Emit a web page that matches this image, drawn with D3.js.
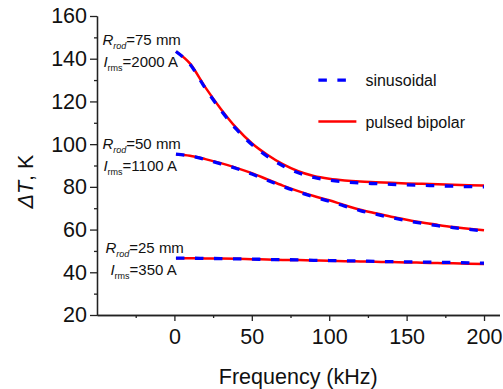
<!DOCTYPE html>
<html>
<head>
<meta charset="utf-8">
<script src="https://cdn.jsdelivr.net/npm/d3@7"></script>
<style>
  body { margin: 0; background: #fff; }
  svg { display: block; font-family: "Liberation Sans", Arial, sans-serif; }
</style>
</head>
<body>
<svg id="chart" width="503" height="389"></svg>
<script>
// frequency grid (kHz)
const freq = [1, 10, 20, 30, 40, 50, 60, 70, 80, 90, 100, 110, 120, 130, 140, 150, 160, 170, 180, 190, 200];

// R_rod = 75 mm, I_rms = 2000 A
const pulsed75 = [143.4, 137.8, 126.6, 116.5, 107.6, 100.4, 95.0, 90.6, 87.3, 85.1, 83.8, 83.0, 82.5, 82.2, 81.9, 81.6, 81.4, 81.2, 81.0, 80.8, 80.6];
const sine75 = [143.4, 137.5, 126.1, 115.9, 107.0, 99.8, 94.3, 89.9, 86.6, 84.4, 83.1, 82.3, 81.8, 81.5, 81.2, 80.9, 80.7, 80.5, 80.3, 80.1, 80.0];

// R_rod = 50 mm, I_rms = 1100 A
const pulsed50 = [95.3, 94.6, 93.0, 91.1, 88.9, 86.4, 83.5, 80.6, 78.0, 75.7, 73.7, 71.4, 69.3, 67.6, 66.0, 64.6, 63.3, 62.2, 61.2, 60.4, 59.7];
const sine50 = [95.3, 94.5, 92.8, 90.8, 88.6, 86.0, 83.1, 80.2, 77.6, 75.3, 73.3, 71.0, 68.9, 67.2, 65.6, 64.2, 62.9, 61.8, 60.9, 60.1, 59.4];

// R_rod = 25 mm, I_rms = 350 A
const pulsed25 = [46.6, 46.6, 46.5, 46.4, 46.3, 46.1, 46.0, 45.8, 45.7, 45.5, 45.4, 45.2, 45.1, 44.9, 44.8, 44.6, 44.5, 44.3, 44.2, 44.0, 43.9];
const sine25 = [46.6, 46.6, 46.5, 46.4, 46.3, 46.2, 46.0, 45.9, 45.8, 45.6, 45.5, 45.4, 45.3, 45.1, 45.0, 44.9, 44.8, 44.7, 44.6, 44.4, 44.3];

const xTicks = [0, 50, 100, 150, 200];
const xMinorTicks = [-25, 25, 75, 125, 175];
const yTicks = [20, 40, 60, 80, 100, 120, 140, 160];
const yMinorTicks = [30, 50, 70, 90, 110, 130, 150];

const seriesNames = ['sinusoidal', 'pulsed bipolar'];

// case labels: rod radius and current
const caseRod = ['75', '50', '25'];
const caseCurrent = ['2000', '1100', '350'];

const svg = d3.select('#chart');
const margin = {top: 16, right: 3.5, bottom: 74, left: 97};
const width = 503 - margin.left - margin.right;
const height = 389 - margin.top - margin.bottom;

const x = d3.scaleLinear().domain([-50, 210]).range([0, width]);
const y = d3.scaleLinear().domain([20, 160]).range([height, 0]);

const g = svg.append('g')
    .attr('transform', 'translate(' + margin.left + ',' + margin.top + ')');

const axisColor = '#222';

// axes
g.append('g')
    .attr('transform', 'translate(0,' + height + ')')
    .call(d3.axisBottom(x).tickValues(xTicks).tickSize(6).tickSizeOuter(0).tickPadding(8));
g.append('g')
    .attr('transform', 'translate(0,' + height + ')')
    .call(d3.axisBottom(x).tickValues(xMinorTicks).tickSize(3).tickSizeOuter(0).tickFormat(''));
g.append('g')
    .call(d3.axisLeft(y).tickValues(yTicks).tickSize(7).tickSizeOuter(0).tickPadding(3));
g.append('g')
    .call(d3.axisLeft(y).tickValues(yMinorTicks).tickSize(3).tickSizeOuter(0).tickFormat(''));

g.selectAll('.domain, .tick line')
    .attr('stroke', axisColor)
    .attr('stroke-width', 1.3);
g.selectAll('.tick text')
    .attr('fill', '#111')
    .style('font-size', '21.5px')
    .style('font-family', '"Liberation Sans", Arial, sans-serif');

// axis titles
g.append('text')
    .attr('x', width / 2)
    .attr('y', height + 69)
    .attr('text-anchor', 'middle')
    .style('font-size', '21.5px')
    .attr('fill', '#111')
    .text('Frequency (kHz)');

const yTitle = g.append('text')
    .attr('transform', 'translate(' + (-64) + ',' + (y(82.5)) + ') rotate(-90)')
    .attr('text-anchor', 'middle')
    .style('font-size', '21.5px')
    .attr('fill', '#111');
yTitle.append('tspan').style('font-style', 'italic').text('ΔT');
yTitle.append('tspan').text(', K');

// curves
const line = d3.line()
    .x((d) => x(d[0]))
    .y((d) => y(d[1]))
    .curve(d3.curveMonotoneX);

const pulsedSets = [pulsed75, pulsed50, pulsed25];
const sineSets = [sine75, sine50, sine25];

pulsedSets.forEach((vals) => {
  g.append('path')
      .datum(freq.map((f, i) => [f, vals[i]]))
      .attr('fill', 'none')
      .attr('stroke', '#ff0000')
      .attr('stroke-width', 2.5)
      .attr('d', line);
});
sineSets.forEach((vals) => {
  g.append('path')
      .datum(freq.map((f, i) => [f, vals[i]]))
      .attr('fill', 'none')
      .attr('stroke', '#0000ff')
      .attr('stroke-width', 3.3)
      .attr('stroke-dasharray', '8.5,10.5')
      .attr('d', line);
});

// case annotations, anchored in data space
const annoX = -46.5;
const annoY = [146.4, 97.8, 49.2];
const annoGap = 22;
caseRod.forEach((r, i) => {
  const ty = y(annoY[i]);
  const t1 = g.append('text')
      .attr('x', x(annoX) + (i == 2 ? 3 : 0))
      .attr('y', ty)
      .style('font-size', '15px')
      .attr('fill', '#111');
  t1.append('tspan').style('font-style', 'italic').text('R');
  t1.append('tspan').style('font-style', 'italic').style('font-size', '9px')
      .attr('dy', 4).text('rod');
  t1.append('tspan').attr('dy', -4).text('=' + r + ' mm');

  const t2 = g.append('text')
      .attr('x', x(annoX) + (i == 2 ? 8 : 1))
      .attr('y', ty + annoGap)
      .style('font-size', '15px')
      .attr('fill', '#111');
  t2.append('tspan').style('font-style', 'italic').text('I');
  t2.append('tspan').style('font-size', '9px').attr('dy', 4).text('rms');
  t2.append('tspan').attr('dy', -4).text('=' + caseCurrent[i] + ' A');
});

// legend
const legend = g.append('g')
    .attr('transform', 'translate(' + (x(93)) + ',' + (y(130)) + ')');
const legendStyles = [
  {stroke: '#0000ff', width: 3.3, dash: '8.5,10.5'},
  {stroke: '#ff0000', width: 2.5, dash: null},
];
seriesNames.forEach((name, i) => {
  const row = legend.append('g').attr('transform', 'translate(0,' + (i * 41.5) + ')');
  row.append('line')
      .attr('x1', 0).attr('x2', 38)
      .attr('y1', 0).attr('y2', 0)
      .attr('stroke', legendStyles[i].stroke)
      .attr('stroke-width', legendStyles[i].width)
      .attr('stroke-dasharray', legendStyles[i].dash);
  row.append('text')
      .attr('x', 47)
      .attr('y', 6)
      .style('font-size', '16px')
      .attr('fill', '#111')
      .text(name);
});
</script>
</body>
</html>
